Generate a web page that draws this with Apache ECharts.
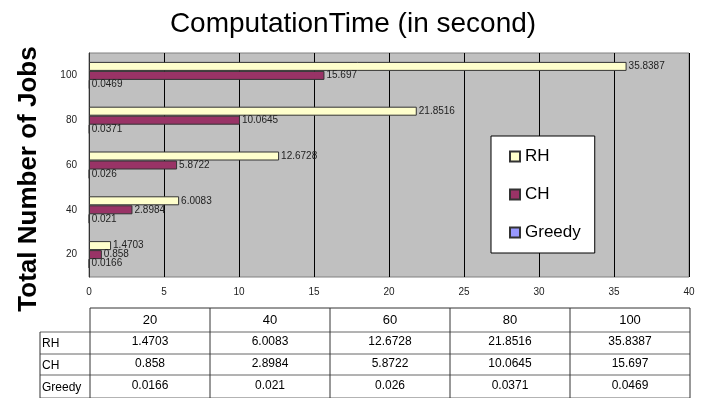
<!DOCTYPE html>
<html>
<head>
<meta charset="utf-8">
<script src="https://cdn.jsdelivr.net/npm/echarts@6/dist/echarts.min.js"></script>
<style>
  html, body { margin: 0; padding: 0; background: #fff; }
  #main { width: 706px; height: 398px; }
</style>
</head>
<body>
<div id="main"></div>
<script>
var jobs = ['20', '40', '60', '80', '100'];
var seriesNames = ['RH', 'CH', 'Greedy'];
var rhTimes = [1.4703, 6.0083, 12.6728, 21.8516, 35.8387];
var chTimes = [0.858, 2.8984, 5.8722, 10.0645, 15.697];
var greedyTimes = [0.0166, 0.021, 0.026, 0.0371, 0.0469];
var xTicks = [0, 5, 10, 15, 20, 25, 30, 35, 40];

var font = 'Liberation Sans, Arial, sans-serif';
var dom = document.getElementById('main');
var myChart = echarts.init(dom);

// data table under the chart
var tableRows = [rhTimes, chTimes, greedyTimes];
var colX = [90, 210, 330, 450, 570, 690];
var rowY = [308, 332, 354, 375, 398];
var table = [];
var vLine = { stroke: '#333', lineWidth: 1 };
var hLine = { stroke: '#666', lineWidth: 1 };
// header row (no label cell)
table.push({ type: 'line', shape: { x1: 90, y1: 308, x2: 690, y2: 308 }, style: vLine });
for (var r = 1; r < rowY.length; r++) {
  table.push({ type: 'line', shape: { x1: 40, y1: rowY[r], x2: 690, y2: rowY[r] }, style: hLine });
}
for (var c = 0; c < colX.length; c++) {
  table.push({ type: 'line', shape: { x1: colX[c], y1: 308, x2: colX[c], y2: 398 }, style: vLine });
}
table.push({ type: 'line', shape: { x1: 40, y1: 332, x2: 40, y2: 398 }, style: vLine });
for (var j = 0; j < jobs.length; j++) {
  table.push({
    type: 'text', x: (colX[j] + colX[j + 1]) / 2, y: (rowY[0] + rowY[1]) / 2,
    style: { text: jobs[j], font: '13px ' + font, fill: '#000', align: 'center', verticalAlign: 'middle' }
  });
}
for (var s = 0; s < seriesNames.length; s++) {
  var yMid = (rowY[s + 1] + rowY[s + 2]) / 2;
  table.push({
    type: 'text', x: 42, y: yMid + 1,
    style: { text: seriesNames[s], font: '12px ' + font, fill: '#000', align: 'left', verticalAlign: 'middle' }
  });
  for (var k = 0; k < jobs.length; k++) {
    table.push({
      type: 'text', x: (colX[k] + colX[k + 1]) / 2, y: yMid - 1,
      style: { text: String(tableRows[s][k]), font: '12px ' + font, fill: '#000', align: 'center', verticalAlign: 'middle' }
    });
  }
}
table.push({
  type: 'text', x: 29, y: 179, rotation: Math.PI / 2,
  style: { text: 'Total Number of Jobs', font: 'bold 26px ' + font, fill: '#000', align: 'center', verticalAlign: 'middle' }
});

function barSeries(name, values, color) {
  return {
    name: name,
    type: 'bar',
    data: values,
    barWidth: 9,
    barGap: 0,
    itemStyle: { color: color, borderColor: '#333', borderWidth: 1 },
    label: {
      show: true, position: 'right', distance: 2,
      fontFamily: font, fontSize: 10, color: '#222'
    }
  };
}

var option = {
  backgroundColor: '#fff',
  animation: false,
  title: {
    text: 'ComputationTime (in second)',
    left: 348, top: 5, textAlign: 'center',
    textStyle: { fontFamily: font, fontSize: 28, fontWeight: 'normal', color: '#000' }
  },
  legend: {
    orient: 'vertical',
    left: 491, top: 136,
    data: seriesNames,
    icon: 'rect',
    itemWidth: 10, itemHeight: 10,
    itemGap: 21,
    padding: [12, 14, 12, 18],
    backgroundColor: '#fff',
    borderColor: '#000', borderWidth: 1,
    textStyle: { fontFamily: font, fontSize: 17, color: '#000' }
  },
  grid: {
    left: 89, right: 17, top: 53, bottom: 121,
    show: true, backgroundColor: '#C0C0C0', borderColor: '#808080', borderWidth: 1
  },
  xAxis: {
    type: 'value', min: xTicks[0], max: xTicks[xTicks.length - 1], interval: 5,
    axisLine: { show: false },
    axisTick: { show: false },
    axisLabel: { fontFamily: font, fontSize: 10, color: '#222', margin: 10 },
    splitLine: { lineStyle: { color: '#000', width: 1 } }
  },
  yAxis: {
    type: 'category', data: jobs,
    axisLine: { lineStyle: { color: '#333' } },
    axisTick: { inside: true, length: 3, lineStyle: { color: '#333' } },
    axisLabel: { fontFamily: font, fontSize: 10, color: '#222', margin: 12 }
  },
  graphic: table,
  series: [
    barSeries('RH', rhTimes, '#FFFFCC'),
    barSeries('CH', chTimes, '#993366'),
    barSeries('Greedy', greedyTimes, '#9999FF')
  ]
};

myChart.setOption(option);
</script>
</body>
</html>
